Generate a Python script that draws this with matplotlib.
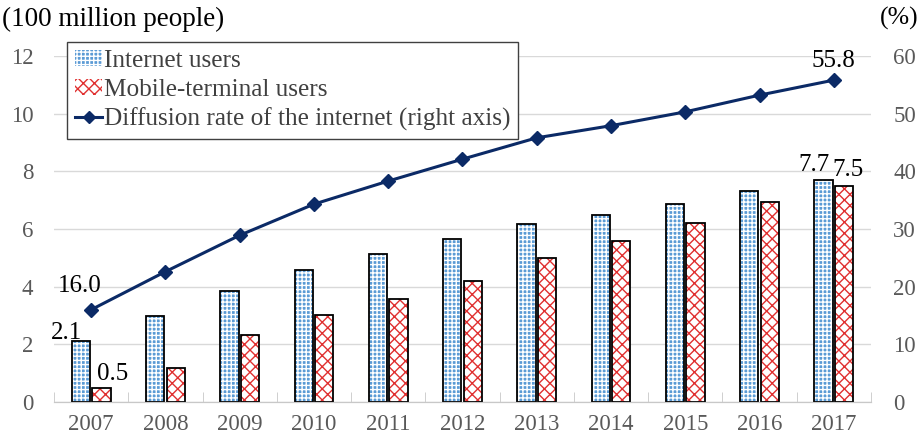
import numpy as np
import matplotlib.pyplot as plt
from matplotlib.patches import Patch
from matplotlib.lines import Line2D

# === Data ===
years = ["2007", "2008", "2009", "2010", "2011", "2012", "2013", "2014", "2015", "2016", "2017"]
internet_users = [2.1, 2.98, 3.84, 4.57, 5.13, 5.64, 6.18, 6.49, 6.88, 7.31, 7.7]
mobile_users = [0.5, 1.17, 2.33, 3.03, 3.56, 4.2, 5.0, 5.57, 6.2, 6.95, 7.5]
diffusion_rate = [16.0, 22.6, 28.9, 34.3, 38.3, 42.1, 45.8, 47.9, 50.3, 53.2, 55.8]

plt.rcParams['font.family'] = ['Liberation Serif', 'DejaVu Serif']
plt.rcParams['hatch.linewidth'] = 1.0

fig = plt.figure(figsize=(9.22, 4.44), dpi=100)
ax1 = fig.add_axes([0.0586, 0.0946, 0.886, 0.7795])
ax2 = ax1.twinx()

x = np.arange(len(years))
w = 0.245
off = 0.138
blue_face = '#5b9bd5'
blue_hatch = '++++'
red = '#e03030'
red_hatch = 'xxx'
navy = '#0b2a66'
label_gray = '#595959'

# === Bars: hatched fill first, black outline on top ===
ax1.bar(x - off, internet_users, w, color=blue_face, edgecolor='white', hatch=blue_hatch, linewidth=0, zorder=2)
ax1.bar(x - off, internet_users, w, fill=False, edgecolor='black', linewidth=1.3, zorder=3)
ax1.bar(x + off, mobile_users, w, color='white', edgecolor=red, hatch=red_hatch, linewidth=0, zorder=2)
ax1.bar(x + off, mobile_users, w, fill=False, edgecolor='black', linewidth=1.3, zorder=3)

# === Line (right axis) ===
ax2.plot(x, diffusion_rate, color=navy, linewidth=2.2, marker='D', markersize=7, zorder=4)

ax1.set_xlim(-0.5, len(years) - 0.5)
ax1.set_ylim(0, 12)
ax2.set_ylim(0, 60)
ax1.set_yticks(range(0, 13, 2))
ax2.set_yticks(range(0, 61, 10))
ax1.set_xticks(x)
ax1.set_xticklabels(years)
ax1.set_xticks(np.arange(-0.5, len(years), 1), minor=True)

ax1.grid(axis='y', color='#d9d9d9', linewidth=1, zorder=0)
ax1.set_axisbelow(True)
for a in (ax1, ax2):
    for s in ('top', 'left', 'right'):
        a.spines[s].set_visible(False)
    a.spines['bottom'].set_color('#c8c8c8')
ax1.tick_params(axis='y', length=0, labelsize=16.5, labelcolor=label_gray, pad=15)
ax2.tick_params(axis='y', length=0, labelsize=16.5, labelcolor=label_gray, pad=16)
ax1.tick_params(axis='x', which='major', length=0, labelsize=16.5, labelcolor=label_gray, pad=9)
ax1.tick_params(axis='x', which='minor', direction='in', length=7, color='#c8c8c8')

# === Value labels ===
ax1.text(x[0] - off - 0.19, internet_users[0] + 0.1, f"{internet_users[0]:.1f}", ha='center', va='baseline', fontsize=18)
ax1.text(x[0] + off + 0.155, mobile_users[0] + 0.28, f"{mobile_users[0]:.1f}", ha='center', va='baseline', fontsize=18)
ax1.text(x[-1] - off - 0.135, internet_users[-1] + 0.31, f"{internet_users[-1]:.1f}", ha='center', va='baseline', fontsize=18)
ax1.text(x[-1] + off + 0.055, mobile_users[-1] + 0.35, f"{mobile_users[-1]:.1f}", ha='center', va='baseline', fontsize=18)
ax2.text(x[0] - 0.15, diffusion_rate[0] + 3.1, f"{diffusion_rate[0]:.1f}", ha='center', va='baseline', fontsize=18)
ax2.text(x[-1], diffusion_rate[-1] + 2.25, f"{diffusion_rate[-1]:.1f}", ha='center', va='baseline', fontsize=18)

# === Legend ===
handles = [
    Patch(facecolor=blue_face, edgecolor='white', hatch=blue_hatch, label='Internet users'),
    Patch(facecolor='white', edgecolor=red, hatch=red_hatch, label='Mobile-terminal users'),
    Line2D([0], [0], color=navy, linewidth=2.2, marker='D', markersize=6, label='Diffusion rate of the internet (right axis)'),
]
leg = ax2.legend(handles=handles, loc='upper left', bbox_to_anchor=(0.016, 1.04), fontsize=18.2,
                 frameon=True, fancybox=False, edgecolor='#404040', framealpha=1,
                 handlelength=1.1, handleheight=0.6, handletextpad=0.05, labelspacing=0.28,
                 borderpad=0.3, borderaxespad=0)
leg.get_frame().set_linewidth(1.0)
for t in leg.get_texts():
    t.set_color('#404040')
for p in leg.get_patches():
    p.set_linewidth(0)

fig.text(0.002, 0.985, "(100 million people)", ha='left', va='top', fontsize=19.5)
fig.text(0.996, 0.985, "(%)", ha='right', va='top', fontsize=18.5)

fig.savefig("out.png", dpi=100)
